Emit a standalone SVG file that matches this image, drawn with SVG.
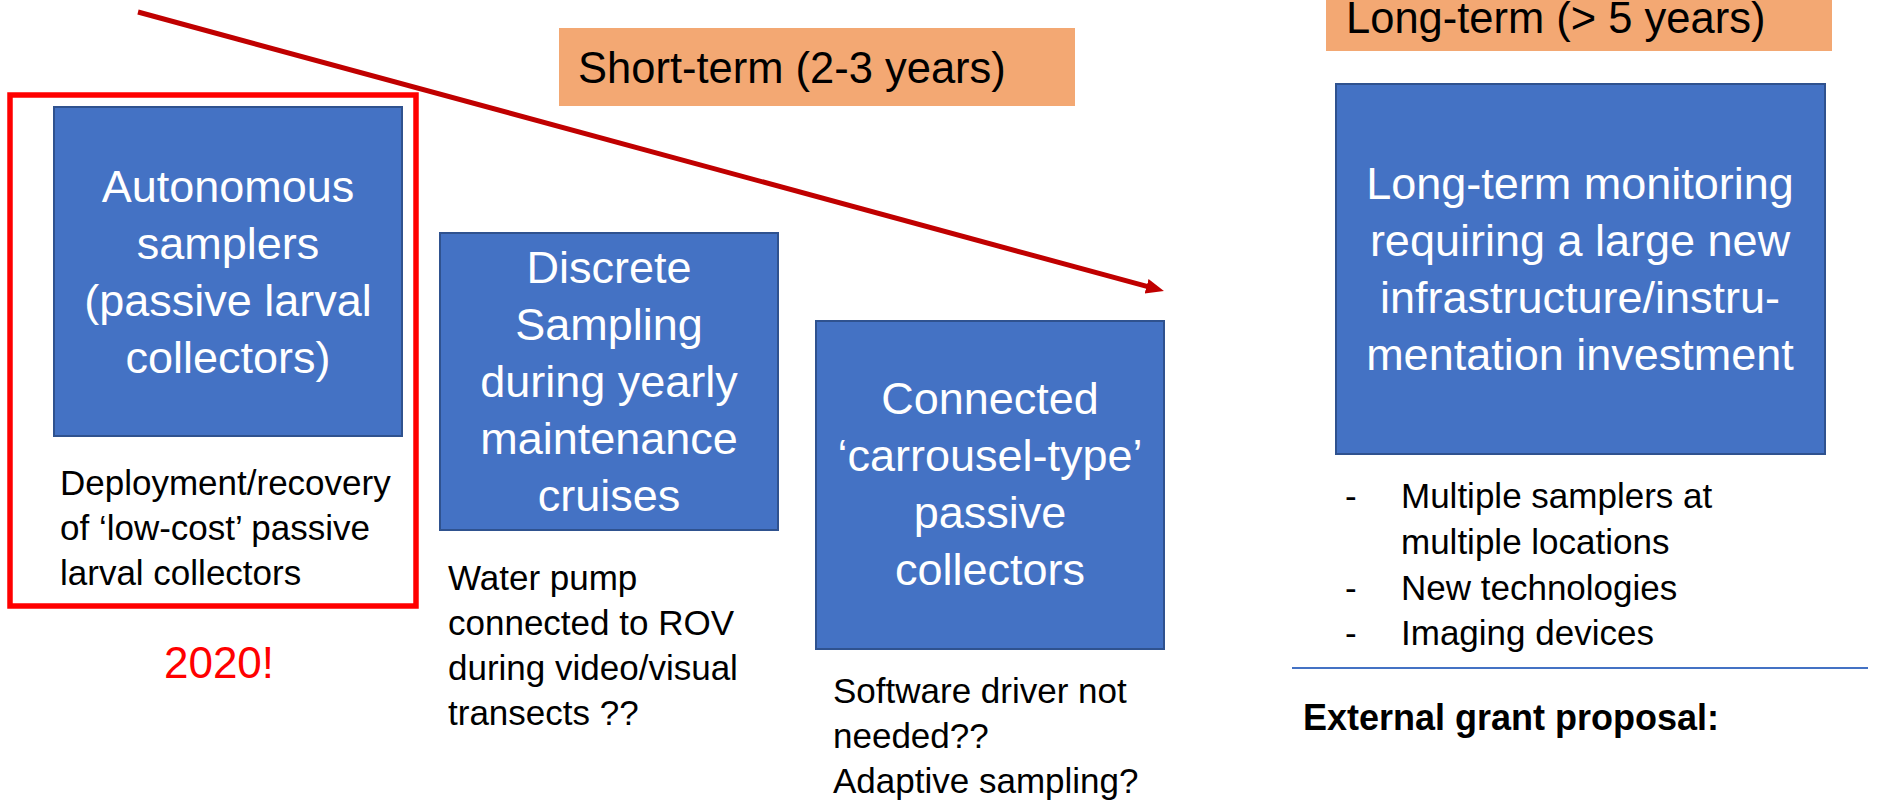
<svg xmlns="http://www.w3.org/2000/svg" width="1885" height="801" viewBox="0 0 1885 801">
<style>
.box{fill:#4472C4;stroke:#2F528F;stroke-width:2}
.tag{fill:#F3A873}
.bt{font-family:"Liberation Sans",Arial,sans-serif;font-size:45px;fill:#FFFFFF;text-anchor:middle}
.tt{font-family:"Liberation Sans",Arial,sans-serif;font-size:43.5px;fill:#000000}
.cap{font-family:"Liberation Sans",Arial,sans-serif;font-size:35px;fill:#000000}
.bold{font-family:"Liberation Sans",Arial,sans-serif;font-size:36px;font-weight:bold;fill:#000000}
.red{font-family:"Liberation Sans",Arial,sans-serif;font-size:44px;fill:#FF0000;text-anchor:middle}
</style>
<defs>
<marker id="ah" markerUnits="userSpaceOnUse" markerWidth="22" markerHeight="18" refX="8" refY="7.5" orient="auto">
<path d="M0,0 L18,7.5 L0,15 z" fill="#C00000"/>
</marker>
</defs>
<rect width="1885" height="801" fill="#FFFFFF"/>

<g id="short-term-label">
<rect class="tag" x="559" y="28" width="516" height="78"/>
<text class="tt" x="578" y="83">Short-term (2-3 years)</text>
</g>

<g id="long-term-label">
<rect class="tag" x="1326" y="-10" width="506" height="61"/>
<text class="tt" x="1346" y="33">Long-term (&gt; 5 years)</text>
</g>

<g id="highlight-2020">
<rect x="10" y="95" width="406" height="511" fill="none" stroke="#FF0000" stroke-width="5.5"/>
<text class="red" x="219" y="678">2020!</text>
</g>

<g id="node-autonomous">
<rect class="box" x="54" y="107" width="348" height="329"/>
<text class="bt" x="228" y="202">Autonomous</text>
<text class="bt" x="228" y="259">samplers</text>
<text class="bt" x="228" y="316">(passive larval</text>
<text class="bt" x="228" y="373">collectors)</text>
<text class="cap" x="60" y="495">Deployment/recovery</text>
<text class="cap" x="60" y="540">of ‘low-cost’ passive</text>
<text class="cap" x="60" y="585">larval collectors</text>
</g>

<g id="node-discrete">
<rect class="box" x="440" y="233" width="338" height="297"/>
<text class="bt" x="609" y="283">Discrete</text>
<text class="bt" x="609" y="340">Sampling</text>
<text class="bt" x="609" y="397">during yearly</text>
<text class="bt" x="609" y="454">maintenance</text>
<text class="bt" x="609" y="511">cruises</text>
<text class="cap" x="448" y="590">Water pump</text>
<text class="cap" x="448" y="635">connected to ROV</text>
<text class="cap" x="448" y="680">during video/visual</text>
<text class="cap" x="448" y="725">transects ??</text>
</g>

<g id="node-connected">
<rect class="box" x="816" y="321" width="348" height="328"/>
<text class="bt" x="990" y="414">Connected</text>
<text class="bt" x="990" y="471">‘carrousel-type’</text>
<text class="bt" x="990" y="528">passive</text>
<text class="bt" x="990" y="585">collectors</text>
<text class="cap" x="833" y="703">Software driver not</text>
<text class="cap" x="833" y="748">needed??</text>
<text class="cap" x="833" y="793">Adaptive sampling?</text>
</g>

<g id="node-longterm">
<rect class="box" x="1336" y="84" width="489" height="370"/>
<text class="bt" x="1580" y="199">Long-term monitoring</text>
<text class="bt" x="1580" y="256">requiring a large new</text>
<text class="bt" x="1580" y="313">infrastructure/instru-</text>
<text class="bt" x="1580" y="370">mentation investment</text>
<text class="cap" x="1345" y="508">-</text>
<text class="cap" x="1401" y="508">Multiple samplers at</text>
<text class="cap" x="1401" y="554">multiple locations</text>
<text class="cap" x="1345" y="600">-</text>
<text class="cap" x="1401" y="600">New technologies</text>
<text class="cap" x="1345" y="645">-</text>
<text class="cap" x="1401" y="645">Imaging devices</text>
<line x1="1292" y1="668" x2="1868" y2="668" stroke="#4472C4" stroke-width="2"/>
<text class="bold" x="1303" y="730">External grant proposal:</text>
</g>

<g id="connectors">
<line x1="138" y1="12" x2="1154.3" y2="288.4" stroke="#C00000" stroke-width="5" marker-end="url(#ah)"/>
</g>
</svg>
